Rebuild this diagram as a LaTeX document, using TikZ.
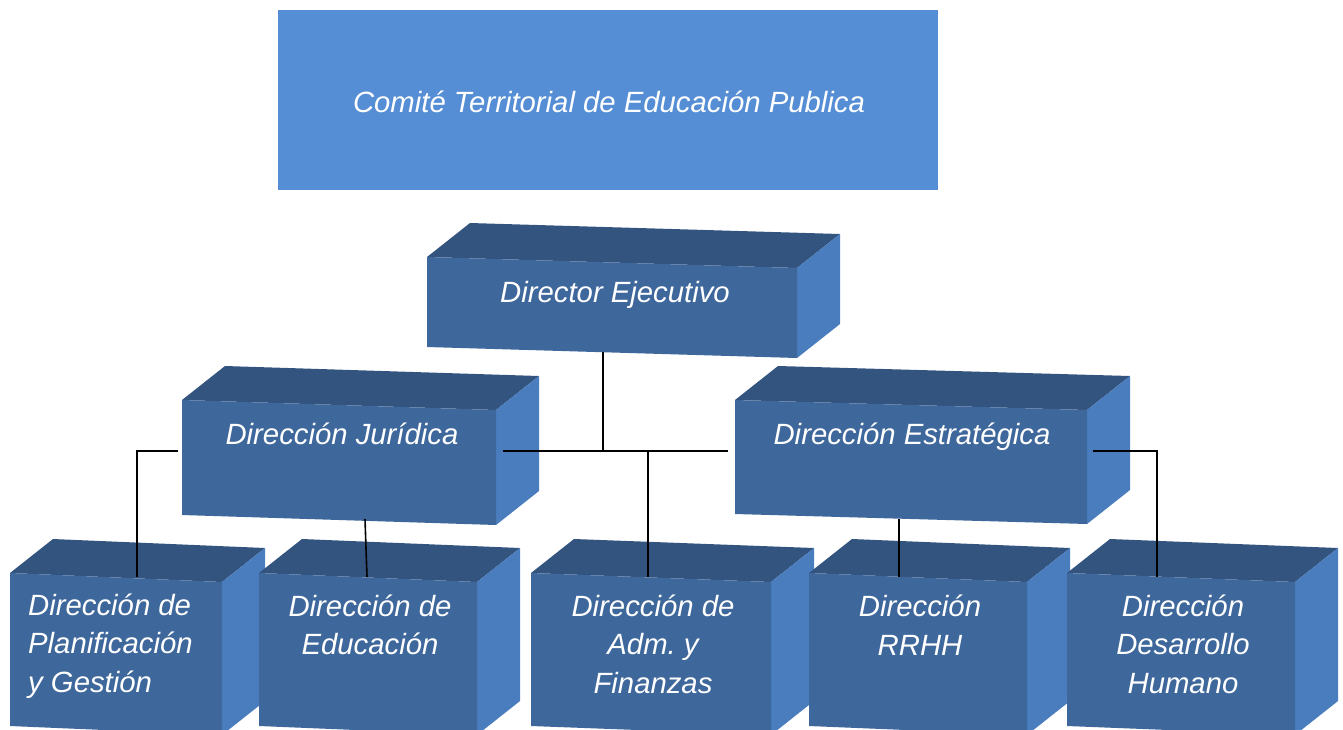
\documentclass[tikz,border=0pt]{standalone}
\usepackage{fontspec}
\setmainfont{Liberation Sans}
\frenchspacing
\definecolor{azulclaro}{RGB}{85,142,213}
\definecolor{frente}{RGB}{62,103,155}
\definecolor{techo}{RGB}{52,84,128}
\definecolor{lado}{RGB}{74,125,190}
\newcommand\cubo[5]{%
\fill[caratecho](#1,#2)--++(43,-34)--++(#3,#5)--++(-43,34)--cycle;
\fill[caralado](#1+#3,#2+#5)--++(43,-34)--++(0,#4)--++(-43,34)--cycle;
\fill[carafrente](#1,#2)--++(#3,#5)--++(0,#4)--++(-#3,-#5)--cycle;}
\begin{document}
\begin{tikzpicture}[x=1pt,y=-1pt,
caratecho/.style={fill=techo},caralado/.style={fill=lado},carafrente/.style={fill=frente},
rotulo/.style={text=white,font=\fontsize{29.3}{38.5}\selectfont\itshape,inner sep=0pt},
conector/.style={line width=1.6pt,color=black}]
\useasboundingbox(0,0)rectangle(1343,729);
\fill[azulclaro](278,10)rectangle(938,190);
\node[rotulo,anchor=base](comite)at(609,112.5){Comité Territorial de Educación Publica};
\cubo{427}{257}{370}{90}{11}
\node[rotulo,anchor=base](dir)at(615,302.5){Director Ejecutivo};
\cubo{182}{400}{314}{115}{10}
\node[rotulo,anchor=base](jur)at(342,444.5){Dirección Jurídica};
\cubo{735}{400}{352}{114}{10}
\node[rotulo,anchor=base](est)at(912,444.5){Dirección Estratégica};
\cubo{10}{573}{212}{153}{9}
\node[rotulo,align=left,anchor=west](plan)at(28,646){Dirección de\\Planificación\\y Gestión};
\cubo{259}{573}{218}{153}{9}
\node[rotulo,align=center](edu)at(370,625){Dirección de\\Educación};
\cubo{531}{573}{240}{153}{9}
\node[rotulo,align=center](adm)at(653,644){Dirección de\\Adm. y\\Finanzas};
\cubo{809}{573}{218}{153}{9}
\node[rotulo,align=center](rrhh)at(920,625){Dirección\\RRHH};
\cubo{1067}{573}{228}{153}{9}
\node[rotulo,align=center](des)at(1183,644){Dirección\\Desarrollo\\Humano};
\coordinate(dirB)at(603,352);
\coordinate(jurR)at(503,451);
\coordinate(estL)at(728,451);
\coordinate(jurL)at(178,451);
\coordinate(jurB)at(365,519);
\coordinate(estB)at(899,519);
\coordinate(estR)at(1093,451);
\coordinate(planT)at(137,577);
\coordinate(eduT)at(367,577);
\coordinate(admT)at(648,577);
\coordinate(rrhhT)at(899,577);
\coordinate(desT)at(1157,577);
\draw[conector](dirB)--(dirB|-jurR);
\draw[conector](jurR)--(estL);
\draw[conector](admT|-jurR)--(admT);
\draw[conector](jurL)-|(planT);
\draw[conector](jurB)--(eduT);
\draw[conector](estB)--(rrhhT);
\draw[conector](estR)-|(desT);
\end{tikzpicture}
\end{document}
